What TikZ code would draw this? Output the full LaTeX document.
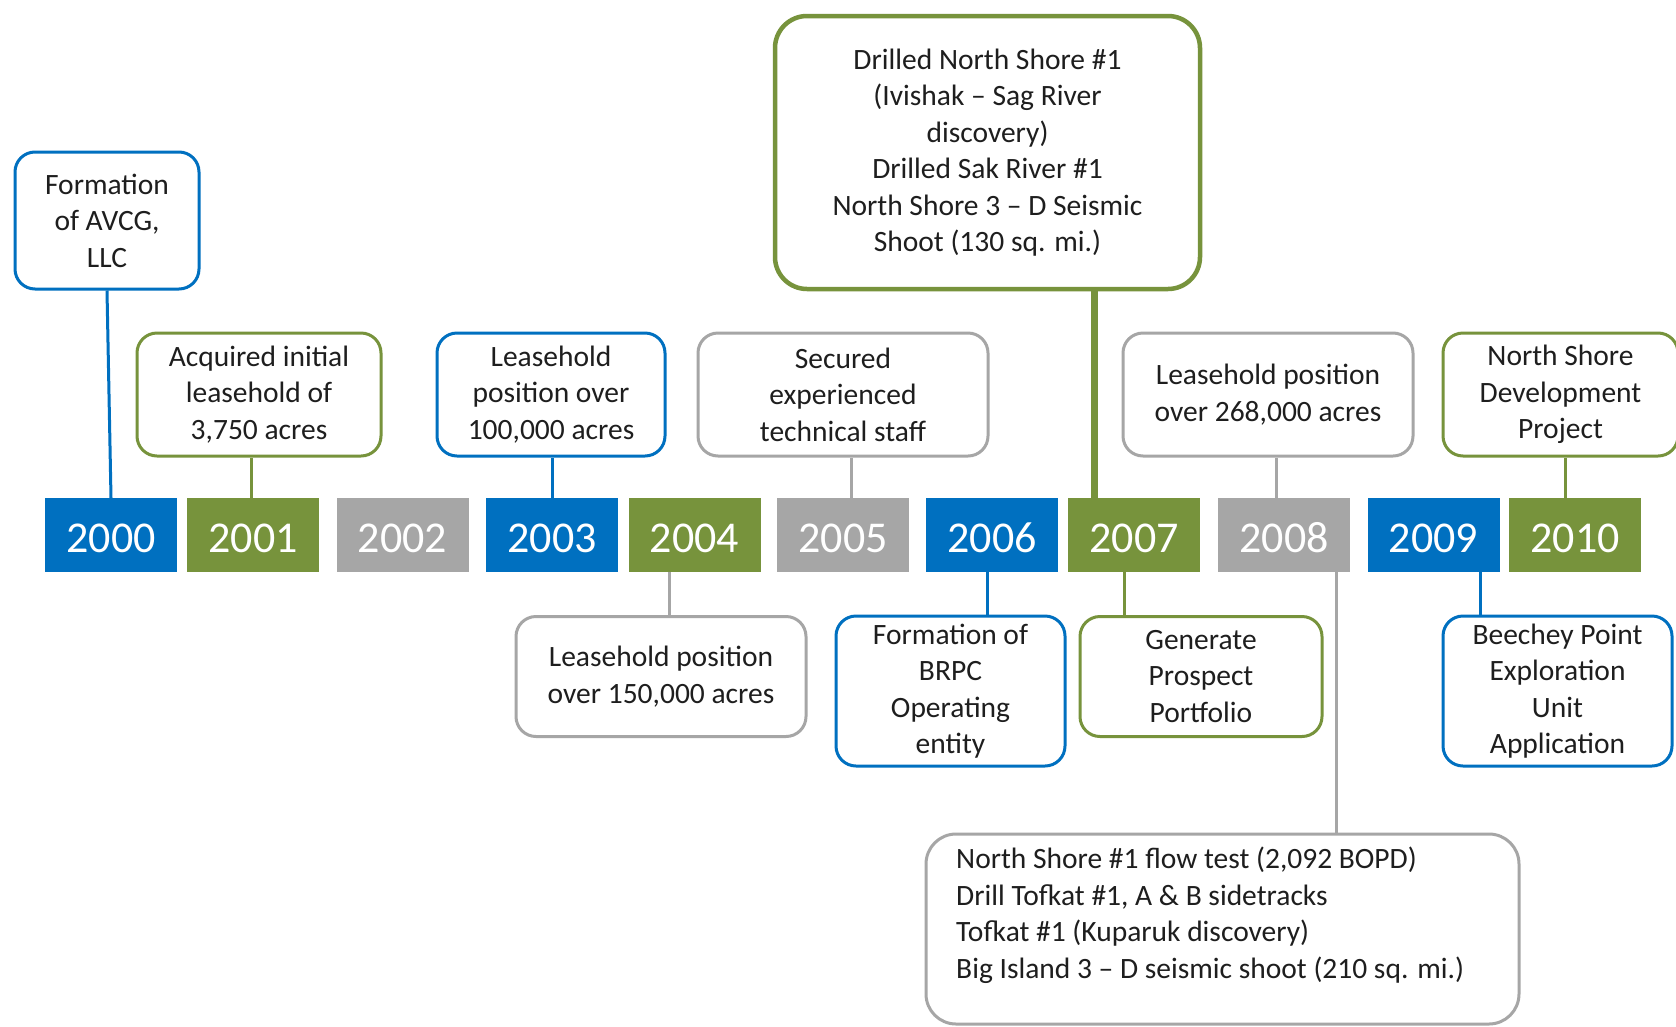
\documentclass[tikz,border=0pt]{standalone}
\usepackage{fontspec}
\setmainfont{Carlito}
\definecolor{tblue}{RGB}{0,112,192}
\definecolor{tgreen}{RGB}{119,147,60}
\definecolor{tgray}{RGB}{166,166,166}
\definecolor{ttext}{RGB}{30,30,30}
\begin{document}
\begin{tikzpicture}[x=1pt,y=-1pt,
  year/.style={minimum width=132pt,minimum height=74pt,inner sep=0pt,text=white,text height=35pt,text depth=0pt,font=\fontsize{44}{50}\selectfont},
  yblue/.style={year,fill=tblue},
  ygreen/.style={year,fill=tgreen},
  ygray/.style={year,fill=tgray},
  callout/.style={draw,line width=3pt,fill=white,rounded corners=20pt,inner sep=0pt,align=center,text=ttext,font=\fontsize{29.5}{36.5}\selectfont},
  cblue/.style={callout,draw=tblue},
  cgreen/.style={callout,draw=tgreen},
  cgray/.style={callout,draw=tgray},
  lblue/.style={draw=tblue,line width=3pt},
  lgreen/.style={draw=tgreen,line width=3pt},
  lgray/.style={draw=tgray,line width=3pt},
]
\useasboundingbox[fill=white] (0,0) rectangle (1676,1026);

% years
\node[yblue]  (y2000) at (111,535)   {2000};
\node[ygreen] (y2001) at (253,535)   {2001};
\node[ygray]  (y2002) at (402.5,535) {2002};
\node[yblue]  (y2003) at (552,535)   {2003};
\node[ygreen] (y2004) at (694.5,535) {2004};
\node[ygray]  (y2005) at (843,535)   {2005};
\node[yblue]  (y2006) at (992,535)   {2006};
\node[ygreen] (y2007) at (1134,535)  {2007};
\node[ygray]  (y2008) at (1284,535)  {2008};
\node[yblue]  (y2009) at (1433.5,535){2009};
\node[ygreen] (y2010) at (1575,535)  {2010};

% callouts above
\node[cblue,minimum width=184pt,minimum height=137pt] (avcg) at (107,220.5) {Formation\\of AVCG,\\LLC};
\node[cgreen,minimum width=244pt,minimum height=123pt] (acq) at (259,394.5) {Acquired initial\\leasehold of\\3,750 acres};
\node[cblue,minimum width=228pt,minimum height=123pt] (l100) at (551,394.5) {Leasehold\\position over\\100,000 acres};
\node[cgray,minimum width=290pt,minimum height=123pt] (sec) at (843,394.5) {Secured\\experienced\\technical staff};
\node[cgray,minimum width=290pt,minimum height=123pt] (l268) at (1268,394.5) {Leasehold position\\over 268,000 acres};
\node[cgreen,minimum width=235pt,minimum height=123pt] (nsd) at (1560.5,394.5) {North Shore\\Development\\Project};
\node[cgreen,line width=4.5pt,rounded corners=32pt,minimum width=425pt,minimum height=273pt] (top) at (987.5,152.5)
  {Drilled North Shore \#1\\(Ivishak -- Sag River\\discovery)\\Drilled Sak River \#1\\North Shore 3 -- D Seismic\\Shoot (130 sq. mi.)};

% callouts below
\node[cgray,minimum width=290pt,minimum height=120pt] (l150) at (661,676.5) {Leasehold position\\over 150,000 acres};
\node[cblue,minimum width=229pt,minimum height=150pt] (brpc) at (950.5,691) {Formation of\\BRPC\\Operating\\entity};
\node[cgreen,minimum width=242pt,minimum height=120pt] (gen) at (1201,676.5) {Generate\\Prospect\\Portfolio};
\node[cblue,minimum width=229pt,minimum height=150pt] (bee) at (1557.5,691) {Beechey Point\\Exploration\\Unit\\Application};
\node[cgray,rounded corners=30pt,minimum width=593pt,minimum height=190pt] (bot) at (1222.5,929) {};
\node[anchor=west,inner sep=0pt,align=left,text=ttext,font=\fontsize{29.5}{36.5}\selectfont] (bottxt) at (956,915)
  {North Shore \#1 flow test (2,092 BOPD)\\Drill Tofkat \#1, A \& B sidetracks\\Tofkat \#1 (Kuparuk discovery)\\Big Island 3 -- D seismic shoot (210 sq. mi.)};

% connectors
\draw[lblue] (avcg.south) -- (y2000.north);
\path (y2001.north) ++(-2,0) coordinate (k2001);
\draw[lgreen] (k2001) -- (k2001 |- acq.south);
\draw[lblue] (y2003.north) -- (y2003.north |- l100.south);
\path (y2005.north) ++(8,0) coordinate (k2005);
\draw[lgray] (k2005) -- (k2005 |- sec.south);
\path (y2007.north) ++(-40,0) coordinate (k2007);
\draw[draw=tgreen,line width=7pt] (k2007) -- (k2007 |- top.south);
\path (y2008.north) ++(-8,0) coordinate (k2008);
\draw[lgray] (k2008) -- (k2008 |- l268.south);
\path (y2010.north) ++(-10,0) coordinate (k2010);
\draw[lgreen] (k2010) -- (k2010 |- nsd.south);

\path (y2004.south) ++(-25.5,0) coordinate (b2004);
\draw[lgray] (b2004) -- (b2004 |- l150.north);
\path (y2006.south) ++(-5,0) coordinate (b2006);
\draw[lblue] (b2006) -- (b2006 |- brpc.north);
\path (y2007.south) ++(-10,0) coordinate (b2007);
\draw[lgreen] (b2007) -- (b2007 |- gen.north);
\path (y2008.south) ++(52,0) coordinate (b2008);
\draw[lgray] (b2008) -- (b2008 |- bot.north);
\path (y2009.south) ++(46.5,0) coordinate (b2009);
\draw[lblue] (b2009) -- (b2009 |- bee.north);
\end{tikzpicture}
\end{document}
